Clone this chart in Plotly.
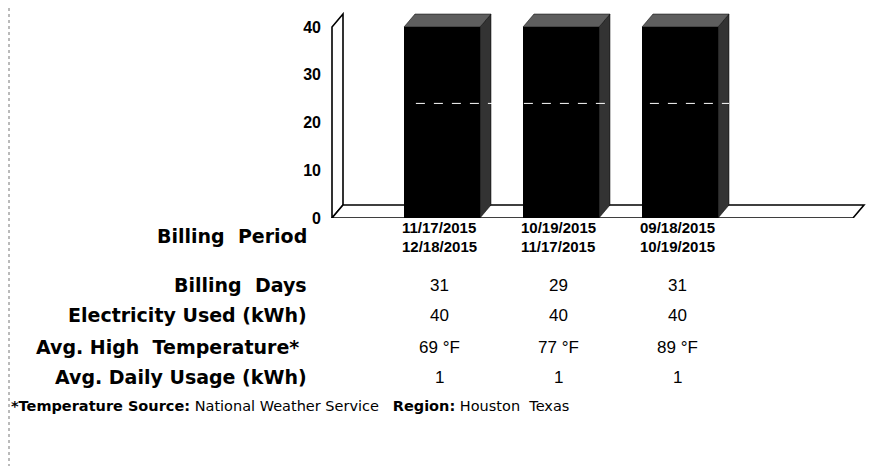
import plotly.graph_objects as go

# ---------------- data ----------------
period_start = ["11/17/2015", "10/19/2015", "09/18/2015"]
period_end = ["12/18/2015", "11/17/2015", "10/19/2015"]
billing_days = [31, 29, 31]
electricity_kwh = [40, 40, 40]
avg_high_temp_f = [69, 77, 89]
avg_daily_kwh = [1, 1, 1]
y_ticks = [0, 10, 20, 30, 40]
row_labels = ["Billing  Period", "Billing  Days", "Electricity Used (kWh)",
              "Avg. High  Temperature*", "Avg. Daily Usage (kWh)"]
gridline_value = 24

# ---------------- layout constants (pixels) ----------------
W, H = 874, 466
L, R, T, B = 318, 872, 4, 210
PX_PER_Y = 4.775
SPACING = 119.0
X0_PX = 434.0                      # pixel of first bar centre
YMAX = (B - T) / PX_PER_Y
XMIN = (L - X0_PX) / SPACING
XMAX = (R - X0_PX) / SPACING
FONT = "Liberation Sans, Arial, sans-serif"
WIDE = "DejaVu Sans, Verdana, sans-serif"

bar_w = 76 / SPACING
dx = 11 / SPACING               # depth offset in x units
dy = 13 / PX_PER_Y              # depth offset in y units
wall_x = (324 - X0_PX) / SPACING
floor_x = (845 - X0_PX) / SPACING
wall_top = 40
label_shift = -3 / SPACING

def py(p):  # pixel y -> paper y
    return (B - p) / (B - T)

def px(p):  # pixel x -> paper x
    return (p - L) / (R - L)

xs = list(range(len(electricity_kwh)))

fig = go.Figure()
fig.add_trace(go.Bar(x=xs, y=electricity_kwh, width=bar_w,
                     marker=dict(color="#000000", line=dict(width=0)),
                     hoverinfo="skip", showlegend=False))

shapes = []
# wall (left)
shapes.append(dict(type="path", xref="x", yref="y",
                   path=f"M {wall_x},0 L {wall_x + dx},{dy} L {wall_x + dx},{wall_top + dy} "
                        f"L {wall_x},{wall_top} Z",
                   fillcolor="white", line=dict(color="black", width=1.6), layer="below"))
# floor
shapes.append(dict(type="path", xref="x", yref="y",
                   path=f"M {wall_x},0 L {floor_x},0 L {floor_x + dx},{dy} L {wall_x + dx},{dy} Z",
                   fillcolor="white", line=dict(color="black", width=1.6), layer="below"))
# 3-D sides and tops of bars
for x, v in zip(xs, electricity_kwh):
    r = x + bar_w / 2
    l = x - bar_w / 2
    shapes.append(dict(type="path", xref="x", yref="y",
                       path=f"M {r},0 L {r + dx},{dy} L {r + dx},{v + dy} L {r},{v} Z",
                       fillcolor="#333333", line=dict(color="black", width=0.5), layer="above"))
    shapes.append(dict(type="path", xref="x", yref="y",
                       path=f"M {l},{v} L {l + dx},{v + dy} L {r + dx},{v + dy} L {r},{v} Z",
                       fillcolor="#5e5e5e", line=dict(color="black", width=0.5), layer="above"))
# faint dashed gridline visible across the bars
shapes.append(dict(type="line", xref="x", yref="y",
                   x0=xs[0] - bar_w / 2 + 0.1, x1=xs[-1] + bar_w / 2 + dx, y0=gridline_value, y1=gridline_value,
                   line=dict(color="white", width=1, dash="dash"), layer="above"))
# scan border at left edge
shapes.append(dict(type="line", xref="paper", yref="paper",
                   x0=px(1), x1=px(1), y0=py(0), y1=py(H),
                   line=dict(color="#777777", width=1, dash="dot")))

ann = []
row_y = [228, 277, 307, 339, 369]
label_right = [301, 301, 301, 293, 301]
for lab, yy, xr in zip(row_labels, row_y, label_right):
    ann.append(dict(text=f"<b>{lab}</b>", xref="paper", yref="paper", x=px(xr), y=py(yy),
                    xanchor="right", yanchor="middle", showarrow=False,
                    font=dict(family=WIDE, size=19, color="black")))

for x, s, e, d, k, t, a in zip(xs, period_start, period_end, billing_days,
                                electricity_kwh, avg_high_temp_f, avg_daily_kwh):
    cx = x + label_shift
    ann.append(dict(text=f"<b>{s}</b>", xref="x", yref="paper", x=cx, y=py(219),
                    xanchor="center", yanchor="middle", showarrow=False,
                    font=dict(family=FONT, size=15, color="black")))
    ann.append(dict(text=f"<b>{e}</b>", xref="x", yref="paper", x=cx, y=py(238),
                    xanchor="center", yanchor="middle", showarrow=False,
                    font=dict(family=FONT, size=15, color="black")))
    for val, yy in zip([str(d), str(k), f"{t} °F", str(a)], row_y[1:]):
        ann.append(dict(text=val, xref="x", yref="paper", x=cx, y=py(yy),
                        xanchor="center", yanchor="middle", showarrow=False,
                        font=dict(family=FONT, size=17, color="black")))

ann.append(dict(text="<b>*Temperature Source:</b> National Weather Service   <b>Region:</b> Houston  Texas",
                xref="paper", yref="paper", x=px(1), y=py(398), xanchor="left", yanchor="middle",
                showarrow=False, font=dict(family=WIDE, size=14.5, color="black")))

fig.update_layout(
    width=W, height=H,
    margin=dict(l=L, r=W - R, t=T, b=H - B, pad=0),
    paper_bgcolor="white", plot_bgcolor="white",
    showlegend=False,
    xaxis=dict(range=[XMIN, XMAX], visible=False, fixedrange=True),
    yaxis=dict(range=[0, YMAX], tickvals=y_ticks, ticktext=[f"<b>{v}</b>" for v in y_ticks],
               showgrid=False, zeroline=False, showline=False, ticks="",
               ticklabelstandoff=4,
               tickfont=dict(family=FONT, size=16, color="black"), fixedrange=True),
    shapes=shapes, annotations=ann,
)

fig.write_html("out.html")
